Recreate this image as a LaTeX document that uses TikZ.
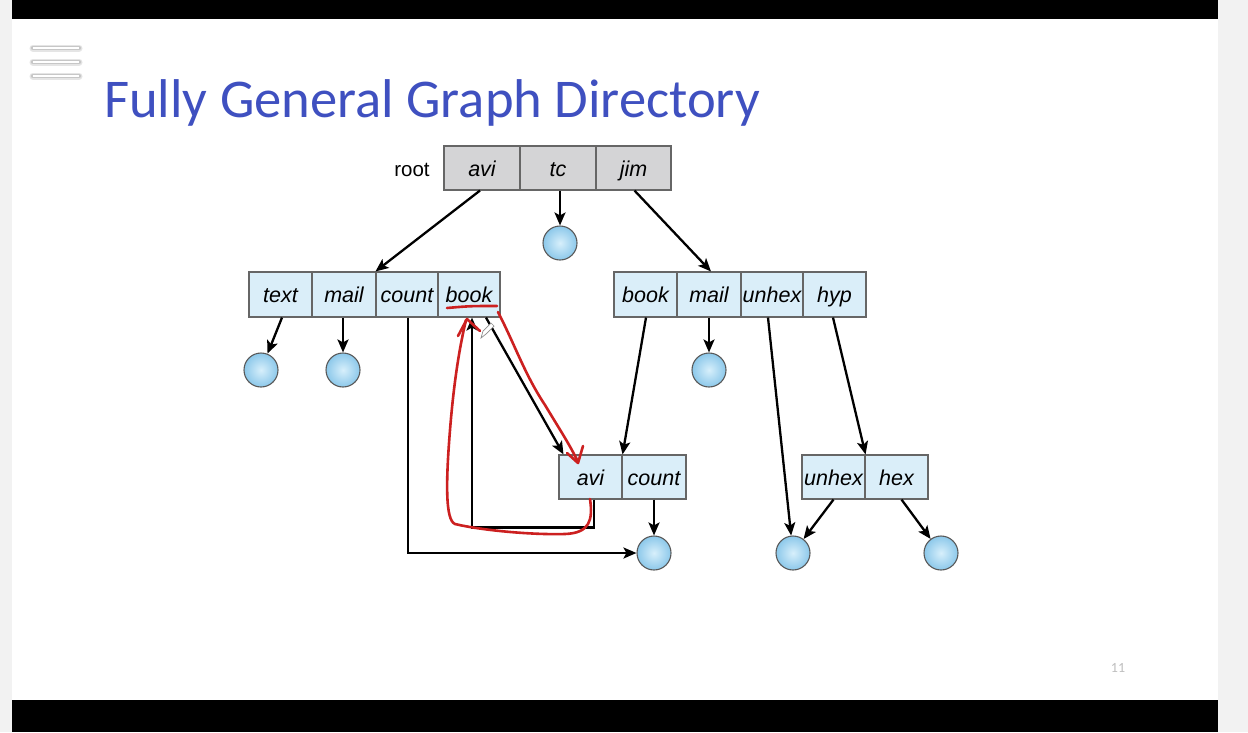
\documentclass[tikz,border=0pt]{standalone}
\usepackage{fontspec}
\setmainfont{Liberation Sans}
\newfontfamily\titlefont{Carlito}
\usetikzlibrary{arrows.meta}

\definecolor{dirblue}{RGB}{218,238,249}
\definecolor{rootgray}{RGB}{212,212,214}
\definecolor{titleblue}{RGB}{63,80,192}
\definecolor{penred}{RGB}{204,32,32}
\definecolor{ballout}{RGB}{140,200,234}
\definecolor{ballin}{RGB}{215,239,251}

\begin{document}
\begin{tikzpicture}[x=1pt,y=-1pt,
 cell/.style={draw=black!60, line width=1.1pt, fill=dirblue, minimum height=45pt, inner sep=0pt, text height=20pt, text depth=4pt, font=\fontsize{21.5}{21.5}\selectfont\itshape},
 rcell/.style={cell, fill=rootgray, minimum height=44pt},
 ball/.style={circle, draw=black!65, line width=1.1pt, minimum size=34pt, inner sep=0pt, inner color=ballin, outer color=ballout},
 arr/.style={-{Stealth[length=13pt,width=11pt,inset=3pt]}, line width=2.3pt},
 pen/.style={penred, line width=2.6pt, line cap=round, line join=round},
]
\useasboundingbox (0,0) rectangle (1248,732);
% slide frame
\fill[black!5] (0,0) rectangle (1248,732);
\fill[white] (12,19) rectangle (1218,700);
\fill[black] (12,0) rectangle (1218,19);
\fill[black] (12,700) rectangle (1218,732);
% menu icon
\foreach \yy in {48,62,76} {
  \draw[black!10, line width=7pt, line cap=round] (33,\yy) -- (79,\yy);
  \draw[black!22, line width=4.5pt, line cap=round] (33,\yy) -- (79,\yy);
  \draw[white, line width=2.6pt] (33,\yy) -- (79,\yy);
}
% title
\node[anchor=base west, text=titleblue, font=\titlefont\fontsize{54.6}{54.6}\selectfont, inner sep=0pt] (title) at (104,117) {Fully General Graph Directory};
\node[text=black!25, font=\titlefont\fontsize{14}{14}\selectfont] (pg) at (1118,668) {11};

% root directory
\node[font=\fontsize{20.5}{20.5}\selectfont, text height=20pt, text depth=4pt, inner sep=0pt] (root) at (412,168) {root};
\node[rcell, minimum width=76pt] (ra) at (482,168) {avi};
\node[rcell, minimum width=76pt] (rt) at (558,168) {tc};
\node[rcell, minimum width=75pt] (rj) at (633.5,168) {jim};

% left directory
\node[cell, minimum width=63pt] (lt) at (280.5,294.5) {text};
\node[cell, minimum width=64pt] (lm) at (344,294.5) {mail};
\node[cell, minimum width=62pt] (lc) at (407,294.5) {count};
\node[cell, minimum width=62pt] (lb) at (469,294.5) {book};

% right directory
\node[cell, minimum width=63pt] (rb) at (645.5,294.5) {book};
\node[cell, minimum width=64pt] (rm) at (709,294.5) {mail};
\node[cell, minimum width=62pt] (ru) at (772,294.5) {unhex};
\node[cell, minimum width=63pt] (rh) at (834.5,294.5) {hyp};

% lower directories
\node[cell, minimum width=63pt, minimum height=44pt] (ma) at (590.5,477) {avi};
\node[cell, minimum width=64pt, minimum height=44pt] (mc) at (654,477) {count};
\node[cell, minimum width=63pt, minimum height=44pt] (qu) at (833.5,477) {unhex};
\node[cell, minimum width=63pt, minimum height=44pt] (qh) at (896.5,477) {hex};

% files
\node[ball] (c0) at (560,243) {};
\node[ball] (c1) at (261,370) {};
\node[ball] (c2) at (343,370) {};
\node[ball] (c3) at (709,370) {};
\node[ball] (c4) at (654,553) {};
\node[ball] (c5) at (793,553) {};
\node[ball] (c6) at (941,553) {};

% links
\draw[arr] (rt.south -| c0) -- (c0.north);
\draw[arr] ([xshift=-2pt]ra.south) -- (lc.north west);
\draw[arr] ([xshift=1pt]rj.south) -- ([xshift=2pt]rm.north);
\draw[arr] ([xshift=1.5pt]lt.south) -- (c1);
\draw[arr] (lm.south -| c2) -- (c2.north);
\draw[arr] ([xshift=1pt]lc.south) |- (c4.west);
\draw[arr] ([xshift=3.5pt]ma.south) -- ++(0,28) -| ([xshift=3pt]lb.south);
\draw[arr] ([xshift=17pt]lb.south) -- ([xshift=-27pt]ma.north);
\draw[arr] ([xshift=0.5pt]rb.south) -- (ma.north east);
\draw[arr] (rm.south -| c3) -- (c3.north);
\draw[arr] ([xshift=-4pt]ru.south) -- (c5);
\draw[arr] ([xshift=-1.5pt]rh.south) -- (qu.north east);
\draw[arr] (mc.south) -- (c4.north);
\draw[arr] (qu.south) -- (c5);
\draw[arr] ([xshift=5pt]qh.south) -- (c6);

% pen annotations
\draw[pen] (447,308) .. controls (470,306) .. (497,306);
\draw[pen] (498,312) .. controls (515,345) and (525,375) .. (545,405) .. controls (560,430) and (570,445) .. (578,462);
\draw[pen] (567,453) -- (578,463) -- (583,446);
\draw[pen] (590,499) .. controls (593,520) and (590,533) .. (565,534) .. controls (530,535) and (480,530) .. (455,524) .. controls (445,520) and (446,480) .. (450,430) .. controls (454,380) and (460,345) .. (466,320);
\draw[pen] (458,336) -- (467,319) -- (480,331);
% pen cursor
\draw[black!45, fill=white, line width=0.7pt] (481,338) -- (483,331) -- (491,323) -- (494,326) -- (486,334) -- cycle;
\end{tikzpicture}
\end{document}
